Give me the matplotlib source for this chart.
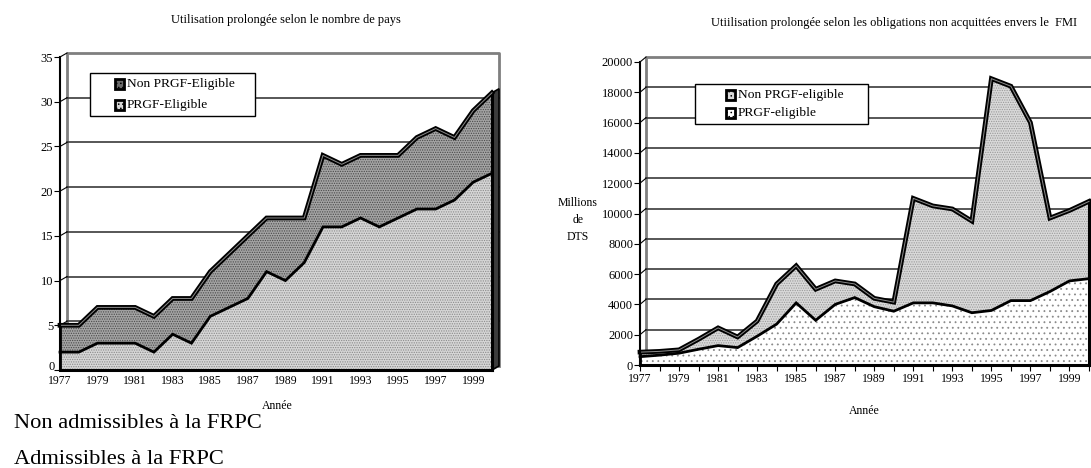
import matplotlib
matplotlib.use("Agg")
import matplotlib.pyplot as plt
from matplotlib.patches import Rectangle, Polygon

plt.rcParams['font.family'] = ['Liberation Serif', 'DejaVu Serif']
plt.rcParams['hatch.linewidth'] = 0.6

# ---- data -------------------------------------------------------------
years = [1977, 1978, 1979, 1980, 1981, 1982, 1983, 1984, 1985, 1986, 1987, 1988,
         1989, 1990, 1991, 1992, 1993, 1994, 1995, 1996, 1997, 1998, 1999, 2000]
year_labels = ['1977', '1979', '1981', '1983', '1985', '1987', '1989', '1991',
               '1993', '1995', '1997', '1999']

# number of countries in prolonged use
prgf_count = [2, 2, 3, 3, 3, 2, 4, 3, 6, 7, 8, 11, 10, 12, 16, 16, 17, 16, 17, 18, 18, 19, 21, 22]
total_count = [5, 5, 7, 7, 7, 6, 8, 8, 11, 13, 15, 17, 17, 17, 24, 23, 24, 24, 24, 26, 27, 26, 29, 31]

# outstanding obligations to the Fund (millions of SDR)
prgf_sdr = [550, 650, 780, 1040, 1280, 1150, 1900, 2700, 4100, 2950, 4000, 4450,
            3850, 3550, 4100, 4100, 3900, 3450, 3600, 4250, 4250, 4850, 5550, 5700]
total_sdr = [850, 900, 1000, 1700, 2450, 1850, 2900, 5350, 6550, 5000, 5550, 5350,
             4400, 4150, 11000, 10500, 10300, 9500, 18900, 18400, 16000, 9700, 10200, 10800]

count_ticks = [0, 5, 10, 15, 20, 25, 30, 35]
sdr_ticks = [0, 2000, 4000, 6000, 8000, 10000, 12000, 14000, 16000, 18000, 20000]

W, H = 1091, 468
fig = plt.figure(figsize=(W / 100, H / 100), dpi=100)


def px_axes(x0, x1, ytop, ybot):
    return fig.add_axes([x0 / W, 1 - ybot / H, (x1 - x0) / W, (ybot - ytop) / H])


def fx(x):
    return x / W


def fy(y):
    return 1 - y / H


def draw_panel(ax, ymax, ticks, lower, total, dxp, dyp, styles, xtick_dir):
    x0, x1 = years[0], years[-1]
    ax.set_xlim(x0, x1)
    ax.set_ylim(0, ymax)
    ax.patch.set_visible(False)
    bb = ax.get_position()
    px_w = bb.width * W
    px_h = bb.height * H
    dx = dxp * (x1 - x0) / px_w
    dy = dyp * ymax / px_h

    # back wall with gridlines
    ax.plot([x0 + dx, x0 + dx, x1 + dx, x1 + dx], [dy, ymax + dy, ymax + dy, dy],
            color='#7f7f7f', lw=2.0, clip_on=False, zorder=1)
    for v in ticks[1:-1]:
        ax.plot([x0 + dx, x1 + dx], [v + dy, v + dy], color='#3a3a3a', lw=1.2,
                clip_on=False, zorder=1)
    for v in ticks:
        ax.plot([x0, x0 + dx], [v, v + dy], color='black', lw=0.8,
                clip_on=False, zorder=1)

    # stacked areas
    ax.fill_between(years, 0, lower, facecolor=styles['low_fc'], edgecolor=styles['low_hc'],
                    hatch=styles['low_h'], lw=0, zorder=3, clip_on=False)
    ax.fill_between(years, lower, total, facecolor=styles['up_fc'], edgecolor=styles['up_hc'],
                    hatch=styles['up_h'], lw=0, zorder=3, clip_on=False)

    # right side face of the solid
    side = Polygon([(x1, 0), (x1 + dx, dy), (x1 + dx, total[-1] + dy), (x1, total[-1])],
                   closed=True, facecolor='#3c3c3c', edgecolor='black', lw=1.2,
                   zorder=4, clip_on=False)
    ax.add_patch(side)
    ax.plot([x1, x1], [0, total[-1]], color='black', lw=2.2, zorder=5, clip_on=False)
    ax.plot([x0, x0], [0, total[0]], color='black', lw=2.0, zorder=5, clip_on=False)

    # series edges
    ax.plot(years, lower, color='black', lw=2.0, zorder=5, clip_on=False,
            solid_joinstyle='miter')
    ax.plot(years, total, color='black', lw=3.4, zorder=5, clip_on=False,
            solid_joinstyle='miter')
    ax.plot(years, total, color='#8c8c8c', lw=0.7, zorder=6, clip_on=False)

    # axes lines and ticks
    for s in ['top', 'right']:
        ax.spines[s].set_visible(False)
    ax.spines['left'].set_linewidth(1.5)
    ax.spines['bottom'].set_linewidth(2.2)
    ax.spines['left'].set_zorder(7)
    ax.spines['bottom'].set_zorder(7)
    ax.set_yticks(ticks)
    ylabels = [str(t) for t in ticks]
    if styles['zero_manual']:
        ylabels[0] = ''
    ax.set_yticklabels(ylabels)
    ax.set_xticks(years)
    ax.set_xticklabels([str(y) if str(y) in year_labels else '' for y in years])
    ax.tick_params(axis='y', direction='out', length=4, width=0.8, pad=1,
                   labelsize=styles['ylab'], colors='black')
    ax.tick_params(axis='x', direction=xtick_dir, length=4, width=0.8,
                   pad=styles['xpad'], labelsize=8.5, colors='black')


# ---- left panel: number of countries ------------------------------------
ax1 = px_axes(60, 492, 57, 370)
draw_panel(ax1, 35, count_ticks, prgf_count, total_count, 7, 4,
           dict(low_fc='#d6d6d6', low_hc='#8a8a8a', low_h='.......',
                up_fc='#a4a4a4', up_hc='#4a4a4a', up_h='.......', ylab=9, xpad=3.5,
                zero_manual=True),
           'in')
fig.text(fx(54.5), fy(367), str(count_ticks[0]), ha='right', va='center', fontsize=9)

# ---- right panel: outstanding obligations -------------------------------
ax2 = px_axes(640, 1089, 62, 365)
draw_panel(ax2, 20000, sdr_ticks, prgf_sdr, total_sdr, 6, 5,
           dict(low_fc='#ffffff', low_hc='#8a8a8a', low_h='...',
                up_fc='#d9d9d9', up_hc='#9a9a9a', up_h='.......', ylab=9, xpad=1.5,
                zero_manual=False),
           'out')

# titles and axis captions
fig.text(fx(286), fy(20), "Utilisation prolongée selon le nombre de pays",
         ha='center', va='center', fontsize=9)
fig.text(fx(894), fy(23), "Utiilisation prolongée selon les obligations non acquittées envers le  FMI",
         ha='center', va='center', fontsize=9)
fig.text(fx(277), fy(406), "Année", ha='center', va='center', fontsize=8.5)
fig.text(fx(864), fy(411), "Année", ha='center', va='center', fontsize=8.5)
fig.text(fx(578), fy(220), "Millions\nde\nDTS", ha='center', va='center',
         fontsize=8.5, linespacing=1.5)

# legends
def legend_box(x0, y0, x1, y1, entries):
    fig.add_artist(Rectangle((fx(x0), fy(y1)), fx(x1 - x0), (y1 - y0) / H,
                             transform=fig.transFigure, facecolor='white',
                             edgecolor='black', lw=1.0, zorder=10))
    for (ix, iy, label, fc, hc) in entries:
        fig.add_artist(Rectangle((fx(ix - 4.5), fy(iy + 4.5)), fx(9), 9 / H,
                                 transform=fig.transFigure, facecolor=fc,
                                 edgecolor='black', lw=2.0, zorder=11,
                                 hatch='....'))
        fig.text(fx(ix + 8), fy(iy), label, ha='left', va='center',
                 fontsize=9.7, zorder=12)


legend_box(90, 73, 255, 116, [
    (119, 84, "Non PRGF-Eligible", '#6a6a6a', '#ffffff'),
    (119, 105, "PRGF-Eligible", '#d6d6d6', '#8a8a8a'),
])
legend_box(695, 84, 868, 124, [
    (730, 95, "Non PRGF-eligible", '#d9d9d9', '#9a9a9a'),
    (730, 113, "PRGF-eligible", '#ffffff', '#8a8a8a'),
])

# captions under the left panel
fig.text(fx(14), fy(423), "Non admissibles à la FRPC", ha='left', va='center', fontsize=16.2)
fig.text(fx(14), fy(459), "Admissibles à la FRPC", ha='left', va='center', fontsize=16.2)

fig.savefig("out.png", dpi=100)
